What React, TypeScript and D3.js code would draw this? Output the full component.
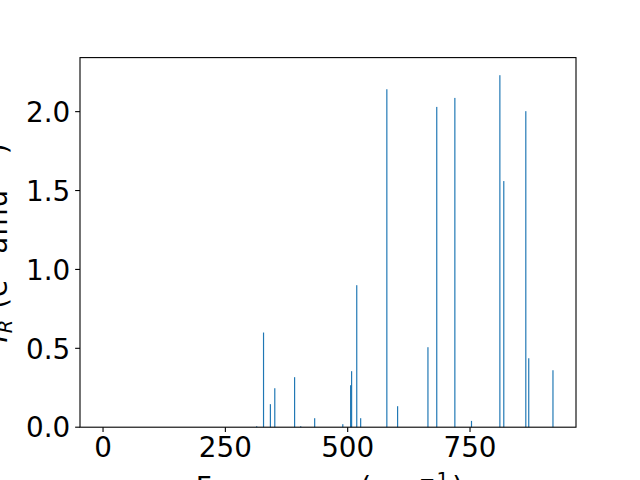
import React from "react";
import * as d3 from "d3";

const frequencies = [0, 314, 328, 342, 351, 391.5, 404, 432.5, 490, 506, 508, 518.5, 526.5, 580, 602, 664, 682, 719, 753, 811, 819, 864, 870, 919.5];
const intensities = [0, 0.006, 0.6, 0.146, 0.247, 0.317, 0.006, 0.057, 0.019, 0.266, 0.355, 0.9, 0.057, 2.142, 0.133, 0.507, 2.03, 2.087, 0.04, 2.231, 1.56, 2.003, 0.437, 0.361];
const xTicks = [0, 250, 500, 750];
const yTicks = [0, 0.5, 1.0, 1.5, 2.0];

const W = 640, H = 480;
const L = 80, R = 576, T = 57.6, B = 427.2;
const BAR_W = 2.4;
const FONT = "'DejaVu Sans', sans-serif";
const FS = 27.8;

export default function App() {
  const xmin = d3.min(frequencies)! - 1;
  const xmax = d3.max(frequencies)! + 1;
  const pad = (xmax - xmin) * 0.05;
  const x = d3.scaleLinear().domain([xmin - pad, xmax + pad]).range([L, R]);
  const ymax = d3.max(intensities)! * 1.05;
  const y = d3.scaleLinear().domain([0, ymax]).range([B, T]);
  const tl = 4.86;

  return (
    <svg width={W} height={H} style={{ position: "absolute", left: 0, top: 0, background: "#fff" }} fontFamily={FONT}>
      <rect x={0} y={0} width={W} height={H} fill="#fff" />
      {frequencies.map((f, i) => (
        <rect key={i} x={x(f - BAR_W / 2)} width={x(f + BAR_W / 2) - x(f - BAR_W / 2)} y={y(intensities[i])} height={B - y(intensities[i])} fill="#1f77b4" />
      ))}
      <rect x={L} y={T} width={R - L} height={B - T} fill="none" stroke="#000" strokeWidth={1.1} />
      {xTicks.map((t) => (
        <g key={t}>
          <line x1={x(t)} x2={x(t)} y1={B} y2={B + tl} stroke="#000" strokeWidth={1.1} />
          <text x={x(t)} y={B + tl + 4.86 + 20.4} textAnchor="middle" fontSize={FS}>{t}</text>
        </g>
      ))}
      {yTicks.map((t) => (
        <g key={t}>
          <line x1={L - tl} x2={L} y1={y(t)} y2={y(t)} stroke="#000" strokeWidth={1.1} />
          <text x={L - tl - 4.86} y={y(t) + 10.2} textAnchor="end" fontSize={FS}>{t.toFixed(1)}</text>
        </g>
      ))}
      <text x={(L + R) / 2 + 2} y={497} textAnchor="middle" fontSize={FS} letterSpacing={1.2}>
        Frequency (cm<tspan dx={2} dy={-11} fontSize={FS * 0.7}>−1</tspan><tspan dx={2} dy={11}>)</tspan>
      </text>
      <text transform={`translate(7,${(T + B) / 2}) rotate(-90)`} textAnchor="middle" fontSize={FS} letterSpacing={1}>
        <tspan fontStyle="italic">I</tspan><tspan fontStyle="italic" fontSize={FS * 0.7} dy={5}>R</tspan>
        <tspan dy={-5}> (e</tspan><tspan dx={2} fontSize={FS * 0.7} dy={-11}>2</tspan>
        <tspan dy={11}> amu</tspan><tspan dx={2} fontSize={FS * 0.7} dy={-11}>−1</tspan><tspan dx={2} dy={11}>)</tspan>
      </text>
    </svg>
  );
}
